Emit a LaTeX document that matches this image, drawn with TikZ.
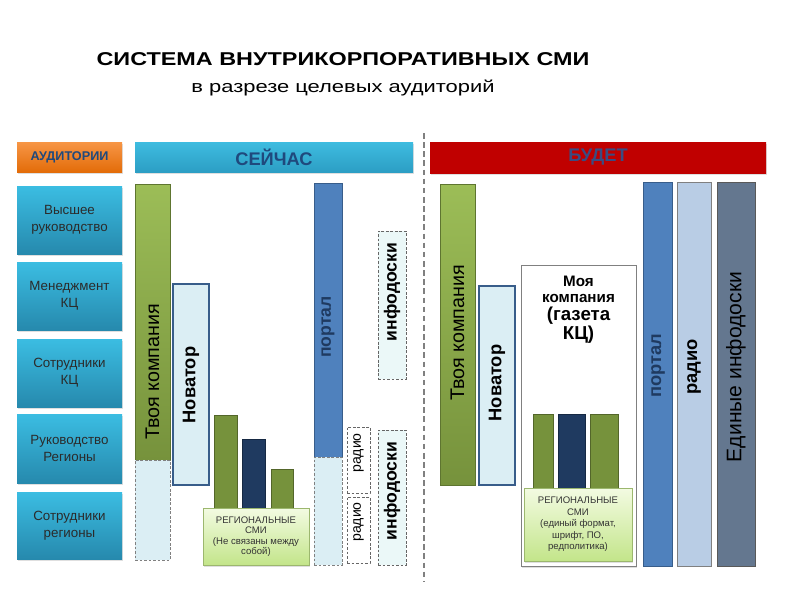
\documentclass[tikz,border=0pt]{standalone}
\usepackage{fontspec}
\setmainfont{Liberation Sans}
\usepackage{graphicx}
\usetikzlibrary{positioning, shadows}
\newlength{\unitpx}\setlength{\unitpx}{0.025cm}
\definecolor{audtop}{HTML}{3BBDE2}
\definecolor{audbot}{HTML}{2689AD}
\definecolor{audtext}{HTML}{2B2B2B}
\definecolor{orgtop}{HTML}{F79646}
\definecolor{orgbot}{HTML}{E36C09}
\definecolor{hdtop}{HTML}{3EBCE0}
\definecolor{hdbot}{HTML}{2C9EC4}
\definecolor{hdtext}{HTML}{1F497D}
\definecolor{grtop}{HTML}{9CBD57}
\definecolor{grbot}{HTML}{76923C}
\definecolor{navy}{HTML}{1F3A60}
\definecolor{portal}{HTML}{4F81BD}
\definecolor{portaledge}{HTML}{385D8A}
\definecolor{paleblue}{HTML}{DBEEF4}
\definecolor{palecyan}{HTML}{EBF8F8}
\definecolor{radiofill}{HTML}{B9CDE5}
\definecolor{slate}{HTML}{64778F}
\definecolor{budred}{HTML}{C00000}
\definecolor{budtext}{HTML}{3A4C82}
\definecolor{notetop}{HTML}{F3FBE2}
\definecolor{notebot}{HTML}{C3E58A}
\tikzset{
  sized/.style 2 args={minimum width=#1\unitpx, minimum height=#2\unitpx, anchor=north west},
  cell/.style={rectangle, inner sep=1pt, outer sep=0pt, align=center},
  shade/.style={drop shadow={opacity=0.25, shadow xshift=1pt, shadow yshift=-1.2pt}},
  audbox/.style={cell, shade, top color=audtop, bottom color=audbot, text=audtext, font=\fontsize{9.5}{12}\selectfont},
  header/.style={cell, shade, top color=hdtop, bottom color=hdbot, text=hdtext, font=\bfseries\fontsize{13}{15}\selectfont},
  greenbar/.style={cell, top color=grtop, bottom color=grbot, draw=grbot!80!black, line width=0.3pt},
  regbar/.style={cell, fill=grbot, draw=grbot!70!black, line width=0.5pt},
  navybar/.style={cell, fill=navy, draw=navy!70!black, line width=0.5pt},
  novbar/.style={cell, fill=paleblue, draw=portaledge, line width=1pt},
  portalbar/.style={cell, fill=portal, draw=portaledge, line width=0.6pt},
  ghost/.style={cell, fill=paleblue, draw=gray, line width=0.4pt, dash pattern=on 2pt off 1.2pt},
  dashbox/.style={cell, fill=palecyan, draw=gray!80!black, line width=0.5pt, dash pattern=on 2pt off 1.2pt},
  regnote/.style={cell, shade, shading angle=135, top color=notetop, bottom color=notebot, draw=notebot!80!black, line width=0.3pt, text=black!80},
  vtext/.style={rotate=90, inner sep=0pt}
}

\begin{document}
\begin{tikzpicture}[x=0.025cm, y=-0.025cm]
\useasboundingbox (0,0) rectangle (800,600);

% title
\node[font=\bfseries\fontsize{13.2}{15}\selectfont] (title) at (343,59) {\scalebox{1.26}[1]{СИСТЕМА ВНУТРИКОРПОРАТИВНЫХ СМИ}};
\node[font=\fontsize{12}{14}\selectfont] (subtitle) at (343,88) {\scalebox{1.3}[1]{в разрезе целевых аудиторий}};

% audiences
\node[cell, shade, sized={105}{30}, top color=orgtop, bottom color=orgbot, text=hdtext, font=\bfseries\fontsize{9}{11}\selectfont] (audhead) at (17,142) {АУДИТОРИИ};
\node[audbox, sized={105}{68}] (aud1) at (17,186) {Высшее\\руководство};
\node[audbox, sized={105}{68}] (aud2) at (17,262) {Менеджмент\\КЦ};
\node[audbox, sized={105}{68}] (aud3) at (17,339) {Сотрудники\\КЦ};
\node[audbox, sized={105}{69}] (aud4) at (17,414) {Руководство\\Регионы};
\node[audbox, sized={105}{67}] (aud5) at (17,492) {Сотрудники\\регионы};

% now
\node[header, sized={278}{30}] (now) at (135,142) {СЕЙЧАС};
\node[greenbar, sized={35}{276}] (comp1) at (135,184) {};
\node[ghost, sized={35}{100}] (comp1x) at (135,460) {};
\node[vtext, font=\fontsize{14}{16}\selectfont] (comp1t) at (152.5,372) {Твоя компания};
\node[novbar, sized={36}{201}] (nov1) at (173,284) {};
\node[vtext, font=\bfseries\fontsize{13}{15}\selectfont] (nov1t) at (191,385) {Новатор};
\node[regbar, sized={23}{93}] (reg1a) at (214,415) {};
\node[navybar, sized={23}{69}] (reg1b) at (242,439) {};
\node[regbar, sized={22}{39}] (reg1c) at (271,469) {};
\node[regnote, sized={106}{57}, font=\fontsize{6.8}{7.4}\selectfont] (note1) at (203,508) {РЕГИОНАЛЬНЫЕ\\СМИ\\(Не связаны между\\собой)};
\node[portalbar, sized={28}{274}] (portal1) at (314,183) {};
\node[ghost, sized={28}{108}] (portal1x) at (314,457) {};
\node[vtext, text=navy, font=\bfseries\fontsize{12.5}{14}\selectfont] (portal1t) at (328,327) {портал};
\node[dashbox, fill=white, sized={23}{66}] (radio1a) at (347,427) {};
\node[dashbox, fill=white, sized={23}{66}] (radio1b) at (347,497) {};
\node[vtext, font=\fontsize{10}{12}\selectfont] (radio1at) at (358.5,453) {радио};
\node[vtext, font=\fontsize{10}{12}\selectfont] (radio1bt) at (358.5,522) {радио};
\node[dashbox, sized={28}{148}] (info1a) at (378,231) {};
\node[dashbox, sized={28}{135}] (info1b) at (378,430) {};
\node[vtext, font=\bfseries\fontsize{12.5}{14}\selectfont] (info1at) at (392,292) {инфодоски};
\node[vtext, font=\bfseries\fontsize{12.5}{14}\selectfont] (info1bt) at (392,491) {инфодоски};

% divider
\coordinate (cut1) at (424,133);
\coordinate (cut2) at (424,582);
\draw[gray, line width=1pt, dash pattern=on 4pt off 2.5pt] (cut1) -- (cut2);

% will be
\node[header, sized={336}{31}, top color=budred, bottom color=budred, text=budtext] (later) at (430,142) {БУДЕТ};
\node[greenbar, sized={35}{301}] (comp2) at (440,184) {};
\node[vtext, font=\fontsize{14}{16}\selectfont] (comp2t) at (457.5,333) {Твоя компания};
\node[novbar, sized={36}{199}] (nov2) at (479,286) {};
\node[vtext, font=\bfseries\fontsize{13}{15}\selectfont] (nov2t) at (497,383) {Новатор};
\node[cell, shade, fill=white, draw=gray, line width=0.6pt, sized={115}{301}] (moya) at (521,265) {};
\node[align=center, inner sep=0pt, font=\bfseries\fontsize{10.8}{11.5}\selectfont, below=11\unitpx of moya.north] (moyaA) {Моя\\компания};
\node[align=center, inner sep=0pt, font=\bfseries\fontsize{13.3}{14}\selectfont, below=3\unitpx of moyaA] (moyaB) {(газета\\КЦ)};
\node[regbar, sized={20}{74}] (reg2a) at (533,414) {};
\node[navybar, sized={27}{74}] (reg2b) at (558,414) {};
\node[regbar, sized={28}{74}] (reg2c) at (590,414) {};
\node[regnote, sized={108}{73}, font=\fontsize{6.8}{8.2}\selectfont] (note2) at (524,488) {РЕГИОНАЛЬНЫЕ\\СМИ\\(единый формат,\\шрифт, ПО,\\редполитика)};
\node[portalbar, sized={29}{384}] (portal2) at (643,182) {};
\node[vtext, text=navy, font=\bfseries\fontsize{13}{15}\selectfont] (portal2t) at (658,366) {портал};
\node[cell, fill=radiofill, draw=gray, line width=0.6pt, sized={34}{384}] (radio2) at (677,182) {};
\node[vtext, font=\bfseries\fontsize{13}{15}\selectfont] (radio2t) at (694,367) {радио};
\node[cell, fill=slate, draw=gray!70!black, line width=0.6pt, sized={38}{384}] (boards) at (717,182) {};
\node[vtext, font=\fontsize{15}{17}\selectfont] (boardst) at (736,367) {Единые инфодоски};
\end{tikzpicture}
\end{document}
